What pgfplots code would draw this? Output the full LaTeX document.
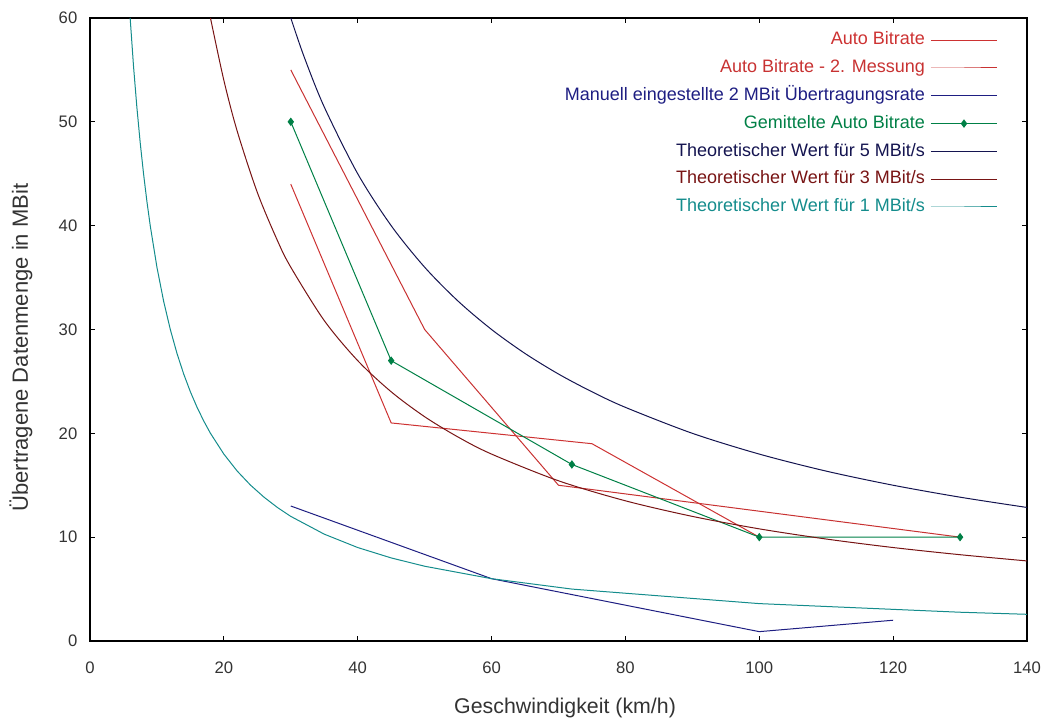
\documentclass[border=0pt]{standalone}
\usepackage{pgfplots}
\pgfplotsset{compat=1.18}
\usepackage{fontspec}
\setmainfont{Liberation Sans}
\definecolor{cauto}{RGB}{205,50,50}
\definecolor{cauto2}{RGB}{200,50,50}
\definecolor{cman}{RGB}{30,30,130}
\definecolor{cavg}{RGB}{0,128,70}
\definecolor{cfive}{RGB}{20,20,80}
\definecolor{cthree}{RGB}{120,20,20}
\definecolor{cone}{RGB}{20,140,140}
\begin{document}
\begin{tikzpicture}
\begin{axis}[
  scale only axis,
  width=702.75pt, height=467.25pt,
  xmin=0, xmax=140, ymin=0, ymax=60,
  xtick={0,20,...,140}, ytick={0,10,...,60},
  tick align=inside,
  major tick length=4pt,
  axis line style={line width=0.8pt},
  every tick/.style={black, line width=0.7pt},
  /pgf/number format/assume math mode=true,
  tick label style={font=\fontsize{12.5}{14}\selectfont, text=black!80},
  xticklabel style={yshift=-12pt},
  yticklabel style={xshift=-6pt},
  xlabel={Geschwindigkeit (km/h)},
  ylabel={Übertragene Datenmenge in MBit},
  xlabel style={font=\fontsize{16}{18}\selectfont, text=black!80, at={(axis description cs:0.507,-0.1075)}, anchor=center},
  ylabel style={font=\fontsize{16.5}{18}\selectfont, text=black!80, at={(axis description cs:-0.0736,0.471)}, anchor=center},
  legend style={draw=none, fill=none, inner sep=0pt, at={(0.969,0.983)}, anchor=north east,
    font=\fontsize{13.5}{15}\selectfont, row sep=3.85pt, column sep=2pt,
    nodes={text height=10pt, text depth=3pt, inner sep=2pt}},
  legend cell align=right,
  legend plot pos=right,
  legend image code/.code={\draw[mark repeat=2,mark phase=2,#1] plot coordinates {(0cm,0cm) (0.875cm,0cm) (1.75cm,0cm)};},
  clip=true,
  every axis plot/.append style={line width=0.75pt},
]
\addplot[cauto, mark=none] coordinates {(30,44) (45,21) (75,19) (100,10)};
\addlegendentry{\textcolor{cauto}{Auto Bitrate}}
\addplot[cauto2, mark=none] coordinates {(30,55) (50,30) (70,15) (130,10)};
\addlegendentry{\textcolor{cauto2}{Auto Bitrate - 2. Messung}}
\addplot[cman, mark=none] coordinates {(30,13) (60,6) (100,0.9) (120,2)};
\addlegendentry{\textcolor{cman}{Manuell eingestellte 2 MBit Übertragungsrate}}
\addplot[cavg, mark=diamond*, mark size=2.6pt, mark options={fill=cavg, draw=cavg}] coordinates {(30,50) (45,27) (72,17) (100,10) (130,10)};
\addlegendentry{\textcolor{cavg}{Gemittelte Auto Bitrate}}
\addplot[cfive, mark=none, smooth] coordinates {(30,60) (32,56.25) (35,51.43) (40,45) (45,40) (50,36) (55,32.73) (60,30) (65,27.69) (70,25.71) (75,24) (80,22.5) (90,20) (100,18) (110,16.36) (120,15) (130,13.85) (140,12.86)};
\addlegendentry{\textcolor{cfive}{Theoretischer Wert für 5 MBit/s}}
\addplot[cthree, mark=none, smooth] coordinates {(18,60) (20,54) (22,49.09) (25,43.2) (28,38.57) (30,36) (35,30.86) (40,27) (45,24) (50,21.6) (55,19.64) (60,18) (70,15.43) (80,13.5) (90,12) (100,10.8) (110,9.82) (120,9) (130,8.31) (140,7.71)};
\addlegendentry{\textcolor{cthree}{Theoretischer Wert für 3 MBit/s}}
\addplot[cone, mark=none] coordinates {(6,60) (6.5,55.38) (7,51.43) (7.5,48) (8,45) (8.5,42.35) (9,40) (10,36) (11,32.73) (12,30) (13,27.69) (14,25.71) (15,24) (16,22.5) (17,21.18) (18,20) (20,18) (22,16.36) (24,15) (26,13.85) (28,12.86) (30,12) (35,10.29) (40,9) (45,8) (50,7.2) (60,6) (72,5) (100,3.6) (130,2.77) (140,2.57)};
\addlegendentry{\textcolor{cone}{Theoretischer Wert für 1 MBit/s}}
\coordinate (ll) at (rel axis cs:0,0);
\coordinate (ur) at (rel axis cs:1,1);
\end{axis}
\path ([shift={(-67.5pt,-60.75pt)}]ll) rectangle ([shift={(15pt,13.5pt)}]ur);
\end{tikzpicture}
\end{document}
